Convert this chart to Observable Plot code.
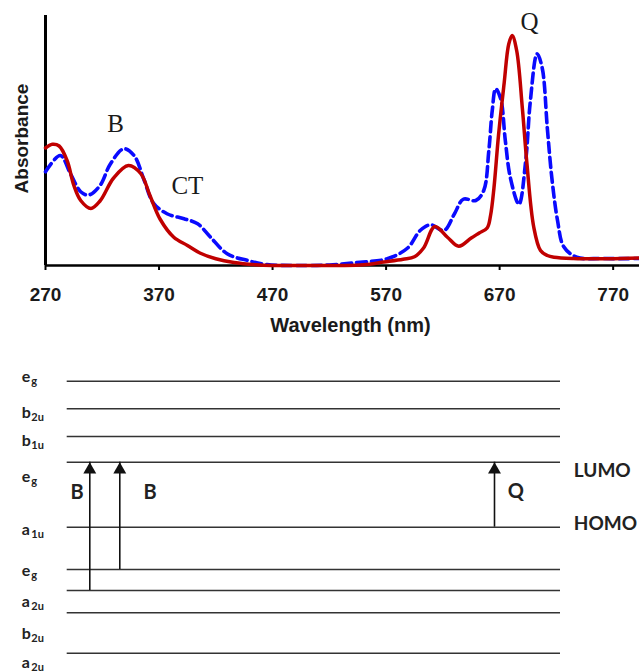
<!DOCTYPE html>
<html>
<head>
<meta charset="utf-8">
<script src="https://cdn.jsdelivr.net/npm/d3@7"></script>
<script src="https://cdn.jsdelivr.net/npm/@observablehq/plot@0.6"></script>
<style>
  body { margin: 0; background: #fff; }
  #chart svg { display: block; }
</style>
</head>
<body>
<div id="chart"></div>
<script>
// ---- Absorption spectrum (normalised absorbance) ----
const redWavelength = [270, 276, 282, 289, 295, 301, 310, 318, 330, 343, 354, 362, 371, 383, 395, 406, 420, 436, 455, 470, 500, 530, 550, 568, 585, 595, 603, 613, 624, 634, 645, 652, 659, 662, 665, 669, 674, 678, 681, 685, 690, 694, 700, 706, 712, 718, 735, 765, 793];
const redAbsorbance = [0.47, 0.485, 0.478, 0.42, 0.32, 0.26, 0.228, 0.258, 0.35, 0.40, 0.367, 0.28, 0.185, 0.113, 0.08, 0.05, 0.027, 0.012, 0.003, 0, 0, 0, 0.003, 0.014, 0.025, 0.035, 0.07, 0.156, 0.113, 0.077, 0.11, 0.13, 0.15, 0.2, 0.31, 0.52, 0.73, 0.885, 0.92, 0.86, 0.63, 0.41, 0.155, 0.06, 0.04, 0.033, 0.028, 0.027, 0.03];

const blueWavelength = [270, 283, 292, 301, 308, 318, 327, 339, 348, 357, 365, 377, 392, 404, 415, 430, 448, 465, 490, 520, 547, 571, 589, 600, 609, 621, 630, 638, 649, 656, 660.5, 663.5, 666.5, 671, 675, 679.5, 687, 693, 697, 703, 707.5, 712, 716, 721, 726.5, 738, 760, 793];
const blueAbsorbance = [0.375, 0.44, 0.367, 0.295, 0.282, 0.32, 0.405, 0.467, 0.44, 0.34, 0.25, 0.207, 0.187, 0.167, 0.115, 0.047, 0.02, 0.004, 0, 0.002, 0.013, 0.027, 0.07, 0.14, 0.163, 0.14, 0.205, 0.265, 0.26, 0.3, 0.46, 0.62, 0.707, 0.665, 0.5, 0.35, 0.245, 0.42, 0.655, 0.847, 0.79, 0.55, 0.35, 0.18, 0.075, 0.033, 0.028, 0.028];

const xTicks = [270, 370, 470, 570, 670, 770];
const bandLabels = ["B", "CT", "Q"];
const bandLabelWavelength = [331.7, 395, 696.3];
const bandLabelAbsorbance = [0.568, 0.319, 0.974];

// ---- Energy level diagram ----
const levelMain = ["e", "b", "b", "e", "a", "e", "a", "b", "a"];
const levelSub = ["g", "2u", "1u", "g", "1u", "g", "2u", "2u", "2u"];
const levelEnergy = [3.193, 2.917, 2.64, 2.383, 1.733, 1.31, 1.10, 0.877, 0.473];
const levelLabelEnergy = [3.19, 2.83, 2.55, 2.19, 1.66, 1.25, 0.94, 0.62, 0.33];
const transitionFrom = [6, 5, 4];
const transitionTo = [3, 3, 3];
const transitionPos = [4.58, 10.66, 86.62];
const transitionLabels = ["B", "B", "Q"];
const transitionLabelPos = [0.67, 15.47, 89.3];
const transitionLabelEnergy = [2.02, 2.02, 2.03];
const frontierLabels = ["LUMO", "HOMO"];
const frontierLabelEnergy = [2.24, 1.71];

const red = redWavelength.map((w, i) => ({w, a: redAbsorbance[i]}));
const blue = blueWavelength.map((w, i) => ({w, a: blueAbsorbance[i]}));
const sansBold = "'Liberation Sans', Arial, sans-serif";

const topPlot = Plot.plot({
  width: 639,
  height: 345,
  marginLeft: 45,
  marginRight: 0,
  marginTop: 15,
  marginBottom: 80,
  style: {background: "#fff", overflow: "visible"},
  x: {domain: [270, 793.2]},
  y: {domain: [0, 1], axis: null},
  marks: [
    Plot.ruleY([0], {stroke: "#000", strokeWidth: 2.5}),
    Plot.ruleX([270], {y1: 0, y2: 1, stroke: "#000", strokeWidth: 3}),
    Plot.axisX({
      ticks: xTicks, tickSize: 5, tickPadding: 17, tickFormat: d => String(d),
      fontSize: 19, fontWeight: "bold", fontFamily: sansBold,
      fill: "#1a1a1a", stroke: "#000", strokeWidth: 2, label: null
    }),
    Plot.line(blue, {x: "w", y: "a", stroke: "#0a0aff", strokeWidth: 3.6, strokeDasharray: "10,5", curve: "catmull-rom"}),
    Plot.line(red, {x: "w", y: "a", stroke: "#c00000", strokeWidth: 3.5, curve: "catmull-rom"}),
    Plot.text(bandLabels, {
      x: (d, i) => bandLabelWavelength[i], y: (d, i) => bandLabelAbsorbance[i], text: d => d,
      fontSize: 25, fontFamily: "'Liberation Serif', 'Times New Roman', serif", fill: "#1a1a1a", lineAnchor: "middle"
    }),
    Plot.text(["Wavelength (nm)"], {
      frameAnchor: "bottom", dx: 8, dy: 60, lineAnchor: "middle",
      fontSize: 20, fontWeight: "bold", fontFamily: sansBold, fill: "#1a1a1a"
    }),
    Plot.text(["Absorbance"], {
      frameAnchor: "left", dx: -24, dy: -2, rotate: -90, textAnchor: "middle", lineAnchor: "middle",
      fontSize: 19, fontWeight: "bold", fontFamily: sansBold, fill: "#1a1a1a"
    })
  ]
});

const idx = d3.range(levelEnergy.length);
const tIdx = d3.range(transitionPos.length);
const diagFont = "Lato, 'Open Sans', sans-serif";

const bottomPlot = Plot.plot({
  width: 639,
  height: 326,
  margin: 0,
  style: {background: "#fff", overflow: "hidden"},
  x: {domain: [0, 100], range: [66.7, 560], axis: null},
  y: {domain: [0, 3.55], range: [355, 0], axis: null},
  marks: [
    Plot.ruleY(idx, {y: i => levelEnergy[i], x1: () => 0, x2: () => 100, stroke: "#333", strokeWidth: 1.5}),
    Plot.ruleX(tIdx, {x: i => transitionPos[i], y1: i => levelEnergy[transitionFrom[i]], y2: i => levelEnergy[transitionTo[i]], stroke: "#111", strokeWidth: 1.6}),
    Plot.dot(tIdx, {x: i => transitionPos[i], y: i => levelEnergy[transitionTo[i]], symbol: "triangle", r: 4.8, fill: "#111", stroke: null, dy: 7.5}),
    Plot.text(idx, {
      x: () => -9.2, y: i => levelLabelEnergy[i], text: i => levelMain[i],
      textAnchor: "start", lineAnchor: "bottom", fontSize: 16, fontWeight: "bold", fontFamily: diagFont, fill: "#222"
    }),
    Plot.text(idx, {
      x: () => -9.2, y: i => levelLabelEnergy[i], text: i => levelSub[i], dx: 9.5, dy: 3,
      textAnchor: "start", lineAnchor: "bottom", fontSize: 11, fontWeight: "bold", fontFamily: diagFont, fill: "#222"
    }),
    Plot.text(tIdx, {
      x: i => transitionLabelPos[i], y: i => transitionLabelEnergy[i], text: i => transitionLabels[i],
      textAnchor: "start", lineAnchor: "bottom", fontSize: 20, fontWeight: "bold", fontFamily: diagFont, fill: "#222"
    }),
    Plot.text(frontierLabels, {
      x: () => 102.7, y: (d, i) => frontierLabelEnergy[i], text: d => d,
      textAnchor: "start", lineAnchor: "bottom", fontSize: 19, fontWeight: "bold", fontFamily: diagFont, fill: "#222"
    })
  ]
});

const root = document.getElementById("chart");
root.appendChild(topPlot);
root.appendChild(bottomPlot);
</script>
</body>
</html>
